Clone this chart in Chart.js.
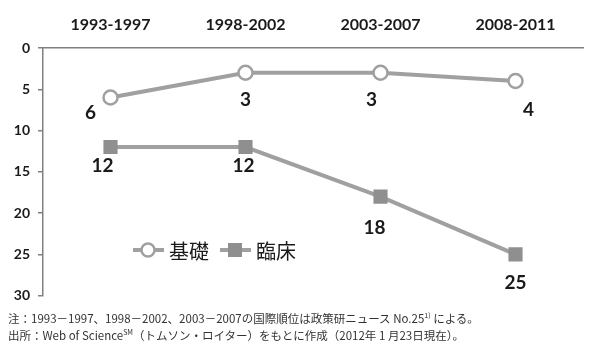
<!DOCTYPE html>
<html><head><meta charset="utf-8">
<script src="https://cdn.jsdelivr.net/npm/chart.js@4"></script>
<style>
html,body{margin:0;padding:0;background:#fff;}
#wrap{position:relative;width:596px;height:357px;}
#c{position:absolute;left:0;top:0;}
.note{position:absolute;left:8px;font-family:"Noto Sans CJK JP","Noto Sans",sans-serif;font-size:11.5px;line-height:14px;color:#333;white-space:nowrap;}
</style></head>
<body><div id="wrap">
<canvas id="c" width="596" height="312"></canvas>
<div class="note" style="top:308px">注：1993－1997、1998－2002、2003－2007の国際順位は政策研ニュース No.25<sup style="font-size:7px">1)</sup> による。</div>
<div class="note" style="top:325px">出所：Web of Science<sup style="font-size:7px">SM</sup>（トムソン・ロイター）をもとに作成（2012年 1 月23日現在）。</div>
</div>
<script>
const categories = ['1993-1997','1998-2002','2003-2007','2008-2011'];
const seriesNames = ['基礎','臨床'];
const basic = [6,3,3,4];
const clinical = [12,12,18,25];
const yTicks = [0,5,10,15,20,25,30];

const LABEL_OFF = [
  [[-20,15],[0,27],[-9,27],[13,29]],
  [[-8,19],[-2,19],[-6,31],[0,29]]
];
const FONT = 'Lato, "Open Sans", sans-serif';

const labelPlugin = {
  id:'labels',
  afterDatasetsDraw(chart){
    const ctx = chart.ctx;
    ctx.save();
    ctx.font = 'bold 19px ' + FONT;
    ctx.fillStyle = '#1a1a1a';
    ctx.textAlign = 'center';
    ctx.textBaseline = 'middle';
    chart.data.datasets.forEach((ds,i)=>{
      chart.getDatasetMeta(i).data.forEach((pt,j)=>{
        const o = LABEL_OFF[i][j];
        ctx.fillText(String(ds.data[j]), pt.x+o[0], pt.y+o[1]);
      });
    });
    // legend
    const ly = 250;
    const items = [{x:133},{x:220}];
    ctx.font = '20px "Noto Sans CJK JP", sans-serif';
    ctx.textAlign = 'left';
    chart.data.datasets.forEach((ds,i)=>{
      const x0 = items[i].x;
      ctx.strokeStyle = ds.borderColor; ctx.lineWidth = 4;
      ctx.beginPath(); ctx.moveTo(x0,ly); ctx.lineTo(x0+31,ly); ctx.stroke();
      const cx = x0+15;
      if(i===0){
        ctx.beginPath(); ctx.arc(cx,ly,6.5,0,Math.PI*2);
        ctx.fillStyle='#fff'; ctx.fill(); ctx.lineWidth=2.5; ctx.strokeStyle=ds.pointBorderColor; ctx.stroke();
      } else {
        ctx.fillStyle = ds.pointBackgroundColor; ctx.fillRect(cx-7,ly-7,14,14);
      }
      ctx.fillStyle = '#1a1a1a';
      ctx.fillText(ds.label, x0+36, ly+1);
    });
    ctx.restore();
  }
};

new Chart(document.getElementById('c'),{
  type:'line',
  data:{
    labels:categories,
    datasets:[
      {label:seriesNames[0],data:basic,borderColor:'#a0a0a0',borderWidth:4,pointStyle:'circle',pointRadius:7,pointBorderWidth:2.5,pointBackgroundColor:'#fff',pointBorderColor:'#a0a0a0',tension:0},
      {label:seriesNames[1],data:clinical,borderColor:'#a0a0a0',borderWidth:4,pointStyle:'rect',pointRadius:10,pointBorderWidth:0,pointBackgroundColor:'#8f8f8f',pointBorderColor:'#8f8f8f',tension:0}
    ]
  },
  options:{
    responsive:false,animation:false,
    layout:{padding:{left:0,right:13,top:0,bottom:3}},
    plugins:{legend:{display:false},tooltip:{enabled:false}},
    scales:{
      x:{position:'top',offset:true,
        grid:{display:false,drawTicks:false},
        border:{display:true,color:'#808080',width:1.5},
        ticks:{padding:14,color:'#1a1a1a',font:{family:FONT,size:16,weight:'bold'}},
        afterFit(s){s.height=48;}
      },
      y:{reverse:true,min:0,max:30,
        afterBuildTicks(s){s.ticks=yTicks.map(v=>({value:v}));},
        grid:{drawOnChartArea:false,drawTicks:true,tickLength:5,color:'#808080',lineWidth:1.5},
        border:{display:true,color:'#808080',width:1.5},
        ticks:{padding:8,color:'#1a1a1a',font:{family:FONT,size:14,weight:'bold'}},
        afterFit(s){s.width=43;}
      }
    }
  },
  plugins:[labelPlugin]
});
</script>
</body></html>
